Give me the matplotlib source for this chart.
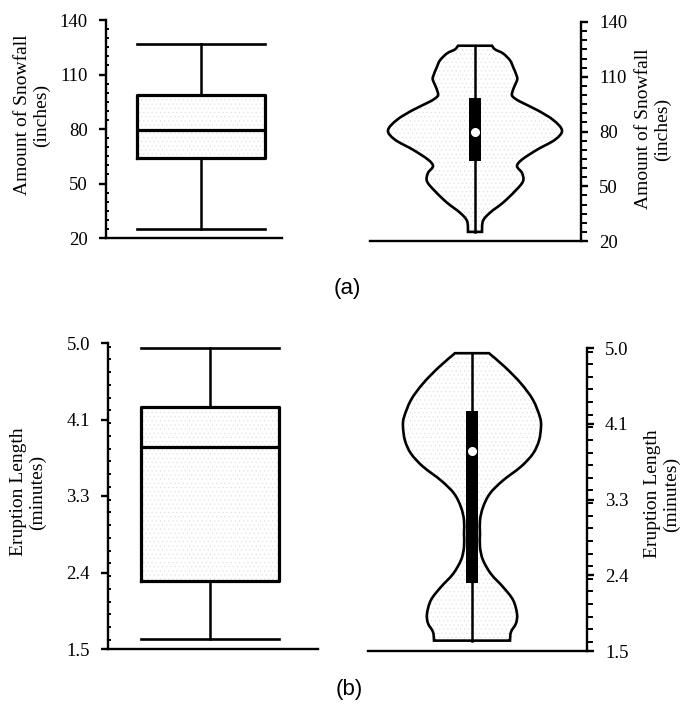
import matplotlib
matplotlib.use("Agg")
import matplotlib.pyplot as plt
from matplotlib.path import Path
from matplotlib.patches import PathPatch, Rectangle
from matplotlib.ticker import MultipleLocator

# snowfall summary (inches)
snow_min, snow_q1, snow_med, snow_q3, snow_max = 25, 63.8, 79.5, 98.5, 127
snow_ticks = [20, 50, 80, 110, 140]
snow_ticklabels = ["20", "50", "80", "110", "140"]
# relative density of snowfall along the axis (bottom to top)
snow_levels = [25, 31, 35.5, 41, 47.3, 52.7, 57.3, 61, 64.6, 70, 75.5, 80.6,
               86.4, 91.8, 96.4, 99, 101, 105.5, 108, 110, 115.5, 119, 122.8, 125, 127]
snow_dens = [7, 8, 15, 28, 40, 48, 47, 42, 47, 62, 80, 87,
             78, 62, 45, 38, 37, 40, 42, 42, 38, 35, 28, 20, 17]

# eruption length summary (minutes)
erup_min, erup_q1, erup_med, erup_q3, erup_max = 1.62, 2.28, 3.81, 4.27, 4.94
erup_ticks = [1.5, 2.375, 3.25, 4.125, 5.0]
erup_ticklabels = ["1.5", "2.4", "3.3", "4.1", "5.0"]
erup_levels = [1.62, 1.72, 1.82, 1.93, 2.09, 2.24, 2.39, 2.55, 2.70, 2.86, 3.01, 3.16,
               3.32, 3.47, 3.63, 3.78, 3.93, 4.09, 4.20, 4.40, 4.59, 4.78, 4.94]
erup_dens = [38, 39, 44, 45, 41, 31, 19, 11, 8, 8, 8, 11,
             18, 31, 49, 61, 67, 69, 68, 61, 49, 33, 17]

plt.rcParams['font.family'] = ['Liberation Serif', 'DejaVu Serif']
plt.rcParams['hatch.linewidth'] = 0.3

W, H = 681, 707
fig = plt.figure(figsize=(W / 100, H / 100), dpi=100)

stipple = dict(facecolor='white', edgecolor='#dcdcdc', hatch='....', lw=0, zorder=1)


def add_px_axes(x0, x1, ytop, ybot):
    return fig.add_axes([x0 / W, 1 - ybot / H, (x1 - x0) / W, (ybot - ytop) / H])


def style_axis(ax, side, lim, ticks, labels, minor):
    ax.set_ylim(*lim)
    for s in ['top', 'left', 'right']:
        ax.spines[s].set_visible(False)
    ax.spines[side].set_visible(True)
    for s in ['bottom', side]:
        ax.spines[s].set_linewidth(1.7)
    ax.set_xticks([])
    ax.yaxis.set_ticks_position(side)
    ax.set_yticks(ticks)
    ax.set_yticklabels(labels)
    ax.yaxis.set_minor_locator(MultipleLocator(minor))
    ax.tick_params(axis='y', which='major', direction='out', length=5, width=1.7,
                   labelsize=13.5, pad=8)
    if side == 'left':
        ax.tick_params(axis='y', which='minor', direction='in', length=2.5, width=1.4)
    else:
        ax.tick_params(axis='y', which='minor', direction='out', length=4, width=1.4)


def draw_box(ax, pos, width, lo, q1, med, q3, hi):
    stats = [dict(whislo=lo, q1=q1, med=med, q3=q3, whishi=hi, fliers=[])]
    ax.add_patch(Rectangle((pos - width / 2, q1), width, q3 - q1, **stipple))
    ax.bxp(stats, positions=[pos], widths=width, capwidths=width, showfliers=False,
           boxprops=dict(lw=2.3, color='black'), medianprops=dict(lw=2.3, color='black'),
           whiskerprops=dict(lw=1.8, color='black'), capprops=dict(lw=1.9, color='black'),
           manage_ticks=False)


def smooth_points(pts):
    # Catmull-Rom through the points, written as cubic Bezier segments
    verts = [pts[0]]
    codes = []
    n = len(pts)
    for i in range(n - 1):
        p0 = pts[max(i - 1, 0)]
        p1 = pts[i]
        p2 = pts[i + 1]
        p3 = pts[min(i + 2, n - 1)]
        c1 = (p1[0] + (p2[0] - p0[0]) / 6, p1[1] + (p2[1] - p0[1]) / 6)
        c2 = (p2[0] - (p3[0] - p1[0]) / 6, p2[1] - (p3[1] - p1[1]) / 6)
        verts += [c1, c2, p2]
        codes += [Path.CURVE4] * 3
    return verts, codes


def draw_violin(ax, center, half, levels, dens, lo, q1, med, q3, hi):
    top = max(dens)
    right = [(center + half * d / top, y) for y, d in zip(levels, dens)]
    left = [(center - half * d / top, y) for y, d in zip(levels, dens)][::-1]
    rv, rc = smooth_points(right)
    lv, lc = smooth_points(left)
    verts = rv + lv + [rv[0]]
    codes = [Path.MOVETO] + rc + [Path.LINETO] + lc + [Path.CLOSEPOLY]
    path = Path(verts, codes)
    ax.add_patch(PathPatch(path, **stipple))
    ax.add_patch(PathPatch(path, facecolor='none', edgecolor='black', lw=1.9, zorder=2))
    ax.plot([center, center], [lo, hi], color='black', lw=1.8, zorder=3)
    ax.add_patch(Rectangle((center - 6, q1), 12, q3 - q1, facecolor='black',
                           edgecolor='black', lw=0, zorder=4))
    ax.plot([center], [med], marker='o', ms=5.5, mfc='white', mec='white', zorder=5)


# (a) snowfall
ax1 = add_px_axes(106, 282, 20, 238)
ax1.set_xlim(0, 176)
style_axis(ax1, 'left', (20, 140), snow_ticks, snow_ticklabels, 5)
draw_box(ax1, 95, 128, snow_min, snow_q1, snow_med, snow_q3, snow_max)

ax2 = add_px_axes(370, 581, 22, 241)
ax2.set_xlim(0, 211)
style_axis(ax2, 'right', (20, 140), snow_ticks, snow_ticklabels, 5)
draw_violin(ax2, 105, 87, snow_levels, snow_dens,
            snow_min, snow_q1, snow_med, snow_q3, snow_max)

# (b) eruption length
ax3 = add_px_axes(108, 318, 343, 649)
ax3.set_xlim(0, 210)
style_axis(ax3, 'left', (1.5, 5.0), erup_ticks, erup_ticklabels, 0.875 / 6)
draw_box(ax3, 102, 138, erup_min, erup_q1, erup_med, erup_q3, erup_max)

ax4 = add_px_axes(368, 587, 348, 651)
ax4.set_xlim(0, 219)
style_axis(ax4, 'right', (1.5, 5.0), erup_ticks, erup_ticklabels, 0.875 / 6)
draw_violin(ax4, 104, 69, erup_levels, erup_dens,
            erup_min, erup_q1, erup_med, erup_q3, erup_max)

# axis titles and panel letters
lab = dict(rotation=90, ha='center', va='center', fontsize=14, multialignment='center')
fig.text(32 / W, 1 - 115 / H, "Amount of Snowfall\n(inches)", **lab)
fig.text(653 / W, 1 - 129 / H, "Amount of Snowfall\n(inches)", **lab)
fig.text(28 / W, 1 - 492 / H, "Eruption Length\n(minutes)", **lab)
fig.text(662 / W, 1 - 494 / H, "Eruption Length\n(minutes)", **lab)

fig.text(347 / W, 1 - 288 / H, "(a)", family='Liberation Sans', fontsize=16,
         ha='center', va='center')
fig.text(349 / W, 1 - 690 / H, "(b)", family='Liberation Sans', fontsize=16,
         ha='center', va='center')

fig.savefig("out.png", dpi=100, facecolor='white')
